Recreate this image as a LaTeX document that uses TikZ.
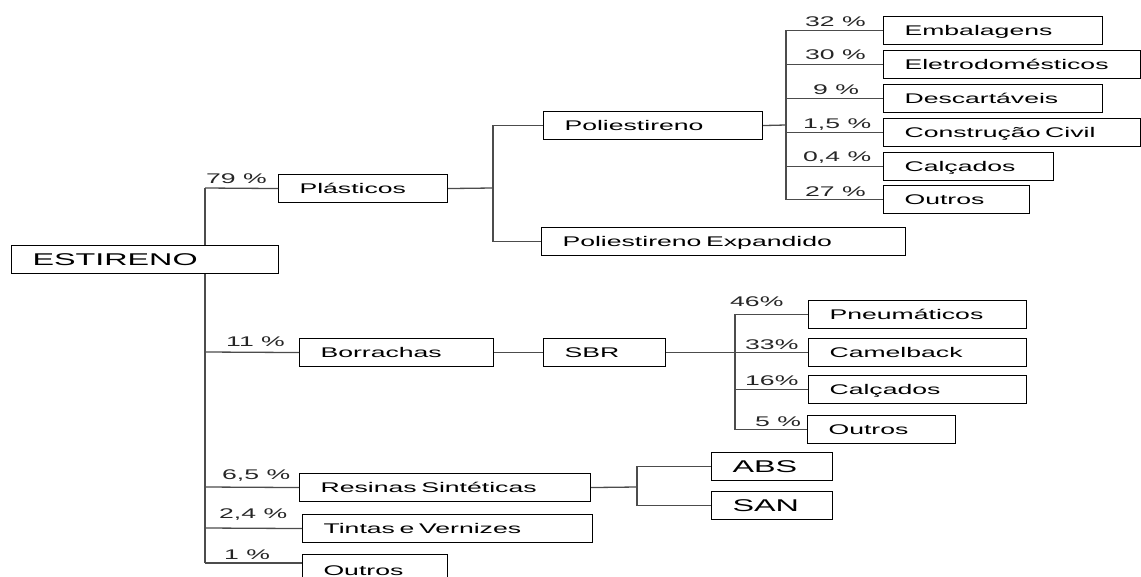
\documentclass[tikz,border=0pt]{standalone}
\usepackage{fontspec}
\setmainfont{Liberation Sans}[FakeStretch=1.9]
\begin{document}
\begin{tikzpicture}[x=1pt,y=-1pt,
  box/.style={draw=black, line width=1.1pt, anchor=north west, inner xsep=21pt, inner ysep=0pt,
    align=left, font=\fontsize{14}{16}\selectfont, text height=10pt, text depth=0pt,
    minimum height=28pt},
  bigbox/.style={box, font=\fontsize{17}{20}\selectfont, text height=12.2pt},
  link/.style={draw=black!70, line width=1.3pt},
  pct/.style={anchor=base west, inner sep=0pt, font=\fontsize{14}{16}\selectfont, text=black!85}]
\useasboundingbox (0,0) rectangle (1141,577);

% boxes
\node[bigbox, text width=225pt] (esti) at (11,245) {ESTIRENO};
\node[box, text width=127pt] (plas) at (278,174) {Plásticos};
\node[box, text width=177pt] (poli) at (543,111) {Poliestireno};
\node[box, text width=322pt] (pexp) at (541,227) {Poliestireno Expandido};
\node[box, text width=177pt] (emb) at (883,16) {Embalagens};
\node[box, text width=215pt] (ele) at (883,50) {Eletrodomésticos};
\node[box, text width=177pt] (desc) at (883,84) {Descartáveis};
\node[box, text width=215pt] (cc) at (883,118) {Construção Civil};
\node[box, text width=128pt] (calca) at (883,152) {Calçados};
\node[box, text width=104pt] (outa) at (883,185) {Outros};
\node[box, text width=152pt] (borr) at (299,338) {Borrachas};
\node[box, text width=80pt] (sbr) at (543,338) {SBR};
\node[box, text width=176pt] (pneu) at (808,300) {Pneumáticos};
\node[box, text width=176pt] (camel) at (808,338) {Camelback};
\node[box, text width=176pt] (calcb) at (808,375) {Calçados};
\node[box, text width=106pt] (outb) at (807,415) {Outros};
\node[box, text width=249pt] (res) at (299,473) {Resinas Sintéticas};
\node[bigbox, text width=79pt] (abs) at (711,452) {ABS};
\node[bigbox, text width=79pt] (san) at (711,491) {SAN};
\node[box, text width=248pt] (tint) at (302,514) {Tintas e Vernizes};
\node[box, text width=103pt, minimum height=32pt] (outc) at (302,554) {Outros};

% main trunk
\coordinate (tr79) at (205,188);
\coordinate (tr11) at (205,352);
\coordinate (tr65) at (205,487);
\coordinate (tr24) at (205,528);
\coordinate (tr1) at (205,563);
\draw[link] (tr79) -- (tr79 |- esti.north);
\draw[link] (tr79 |- esti.south) -- (tr1);
\draw[link] (tr79) -- (plas.west);
\draw[link] (tr11) -- (borr.west);
\draw[link] (tr65) -- (res.west);
\draw[link] (tr24) -- (tint.west);
\draw[link] (tr1) -- (tr1 -| outc.west);

% plastics
\coordinate (jp) at (493,188);
\draw[link] (plas.east) -- (jp);
\draw[link] (poli.west) -- (poli.west -| jp) -- (pexp.west -| jp) -- (pexp.west);

% polystyrene uses
\coordinate (jq) at (786,125);
\draw[link] (poli.east) -- (jq);
\draw[link] (emb.west) -- (emb.west -| jq) -- (outa.west -| jq) -- (outa.west);
\draw[link] (ele.west -| jq) -- (ele.west);
\draw[link] (desc.west -| jq) -- (desc.west);
\draw[link] (cc.west -| jq) -- (cc.west);
\draw[link] (calca.west -| jq) -- (calca.west);

% rubbers
\coordinate (js) at (735,352);
\draw[link] (borr.east) -- (sbr.west);
\draw[link] (sbr.east) -- (camel.west);
\draw[link] (pneu.west) -- (pneu.west -| js) -- (outb.west -| js) -- (outb.west);
\draw[link] (calcb.west -| js) -- (calcb.west);

% resins
\coordinate (jr) at (637,487);
\draw[link] (res.east) -- (jr);
\draw[link] (abs.west) -- (abs.west -| jr) -- (san.west -| jr) -- (san.west);

% shares
\node[pct] (p79) at (206,184) {79 \%};
\node[pct] (p11) at (226,347) {11 \%};
\node[pct] (p65) at (222,479) {6,5 \%};
\node[pct] (p24) at (219,518) {2,4 \%};
\node[pct] (p1) at (224,559) {1 \%};
\node[pct] (p32) at (805,27) {32 \%};
\node[pct] (p30) at (805,60) {30 \%};
\node[pct] (p9) at (813,95) {9 \%};
\node[pct] (p15) at (803,129) {1,5 \%};
\node[pct] (p04) at (803,162) {0,4 \%};
\node[pct] (p27) at (805,197) {27 \%};
\node[pct] (p46) at (730,307) {46\%};
\node[pct] (p33) at (745,349) {33\%};
\node[pct] (p16) at (745,385) {16\%};
\node[pct] (p5) at (755,426) {5 \%};
\end{tikzpicture}
\end{document}
